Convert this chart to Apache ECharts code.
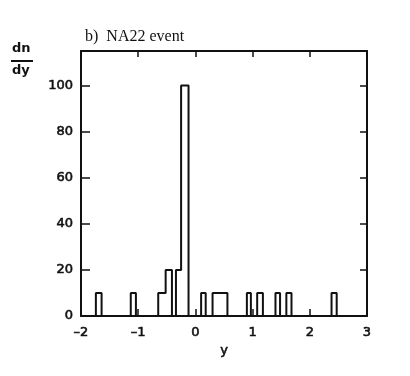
<!DOCTYPE html>
<html>
<head>
<meta charset="utf-8">
<script src="https://cdn.jsdelivr.net/npm/echarts@6/dist/echarts.min.js"></script>
<style>
  html, body { margin: 0; padding: 0; background: #fff; }
  #chart { width: 410px; height: 376px; }
</style>
</head>
<body>
<div id="chart"></div>
<script>
// histogram bins (rapidity y)
const binLo = [-1.74, -1.13, -0.65, -0.52, -0.34, -0.25, 0.10, 0.30, 0.90, 1.08, 1.40, 1.59, 2.38];
const binHi = [-1.64, -1.04, -0.52, -0.41, -0.25, -0.12, 0.18, 0.56, 0.97, 1.18, 1.48, 1.68, 2.47];
const counts = [10, 10, 10, 20, 20, 100, 10, 10, 10, 10, 10, 10, 10];
const xTicks = [-2, -1, 0, 1, 2, 3];
const yTicks = [0, 20, 40, 60, 80, 100];

// outline of the histogram, adjacent bins share one contour
function buildOutline() {
  const pts = [];
  for (let i = 0; i < binLo.length; i++) {
    const joined = i > 0 && Math.abs(binLo[i] - binHi[i - 1]) < 1e-6;
    if (!joined) pts.push([binLo[i], 0]);
    pts.push([binLo[i], counts[i]]);
    pts.push([binHi[i], counts[i]]);
    const nextJoined = i < binLo.length - 1 && Math.abs(binLo[i + 1] - binHi[i]) < 1e-6;
    if (!nextJoined) pts.push([binHi[i], 0]);
  }
  return pts;
}

const numFont = "'DejaVu Sans', sans-serif";
const ink = '#111';
// plotter-ish digits: slightly thickened
const numStyle = { fontFamily: numFont, fontSize: 13, color: ink, textBorderColor: ink, textBorderWidth: 0.6 };

const chart = echarts.init(document.getElementById('chart'), null, { renderer: 'canvas' });
chart.setOption({
  animation: false,
  title: {
    text: 'b)  NA22 event',
    left: 80,
    top: 24,
    textStyle: { fontFamily: "'Liberation Serif', serif", fontSize: 16, fontWeight: 'normal', color: ink },
  },
  grid: { left: 81, right: 43, top: 51, bottom: 60 },
  xAxis: [
    {
      type: 'value',
      min: xTicks[0],
      max: xTicks[xTicks.length - 1],
      interval: 1,
      name: 'y',
      nameLocation: 'middle',
      nameGap: 27,
      nameTextStyle: { ...numStyle },
      axisLine: { onZero: false, lineStyle: { color: ink, width: 2 } },
      axisTick: { inside: true, length: 7, lineStyle: { color: ink, width: 1.5 } },
      axisLabel: { ...numStyle, margin: 10, formatter: v => (v < 0 ? '\u2013' + (-v) : String(v)) },
      splitLine: { show: false },
    },
    {
      type: 'value',
      position: 'top',
      min: xTicks[0],
      max: xTicks[xTicks.length - 1],
      interval: 1,
      axisLine: { show: true, onZero: false, lineStyle: { color: ink, width: 2 } },
      axisTick: { inside: true, length: 6, lineStyle: { color: ink, width: 1.5 } },
      axisLabel: { show: false },
      splitLine: { show: false },
    },
  ],
  yAxis: [
    {
      type: 'value',
      min: yTicks[0],
      max: 115,
      interval: 20,
      axisLine: { show: true, onZero: false, lineStyle: { color: ink, width: 2 } },
      axisTick: { inside: true, length: 9, lineStyle: { color: ink, width: 1.5 } },
      axisLabel: { ...numStyle, margin: 8, showMaxLabel: false },
      splitLine: { show: false },
    },
    {
      type: 'value',
      position: 'right',
      min: yTicks[0],
      max: 115,
      interval: 20,
      axisLine: { show: true, onZero: false, lineStyle: { color: ink, width: 2 } },
      axisTick: { inside: true, length: 7, lineStyle: { color: ink, width: 1.5 } },
      axisLabel: { show: false },
      splitLine: { show: false },
    },
  ],
  graphic: [
    { type: 'text', left: 12, top: 42, style: { text: 'dn', font: "bold 13px 'DejaVu Sans'", fill: ink } },
    { type: 'line', shape: { x1: 11, y1: 61, x2: 33, y2: 61 }, style: { stroke: ink, lineWidth: 2 } },
    { type: 'text', left: 12, top: 64, style: { text: 'dy', font: "bold 13px 'DejaVu Sans'", fill: ink } },
  ],
  series: [
    {
      type: 'line',
      xAxisIndex: 0,
      yAxisIndex: 0,
      data: buildOutline(),
      showSymbol: false,
      lineStyle: { color: ink, width: 2 },
      z: 3,
    },
  ],
});
</script>
</body>
</html>
